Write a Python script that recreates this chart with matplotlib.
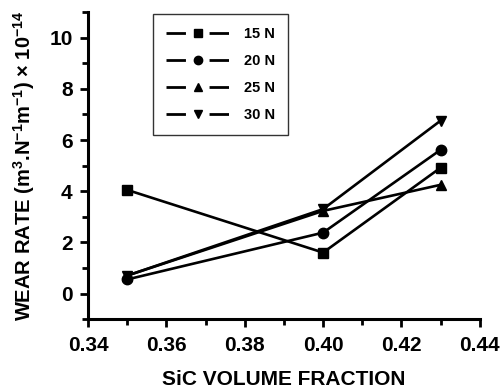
import matplotlib
matplotlib.use('Agg')
from matplotlib import pyplot as plt
from matplotlib.lines import Line2D
from matplotlib.ticker import MultipleLocator

plt.rcParams['font.family'] = 'Liberation Sans'
plt.rcParams['font.weight'] = 'bold'
plt.rcParams['mathtext.fontset'] = 'custom'
plt.rcParams['mathtext.rm'] = 'Liberation Sans'
plt.rcParams['mathtext.bf'] = 'Liberation Sans:bold'
plt.rcParams['mathtext.default'] = 'bf'

x = [0.35, 0.40, 0.43]
loads = ['15 N', '20 N', '25 N', '30 N']
w15 = [4.05, 1.6, 4.92]
w20 = [0.55, 2.38, 5.62]
w25 = [0.7, 3.23, 4.25]
w30 = [0.7, 3.3, 6.76]
series = [w15, w20, w25, w30]
markers = ['s', 'o', '^', 'v']

fig = plt.figure(figsize=(5.03, 3.92), dpi=100)
ax = fig.add_axes([0.175, 0.186, 0.779, 0.783])

handles = []
for y, m, lab in zip(series, markers, loads):
    ax.plot(x, y, color='black', lw=1.9, marker=m, ms=7.5, mec='black', mfc='black')
    handles.append(Line2D([], [], color='black', lw=2, marker=m, ms=6,
                          linestyle=(0, (7, 8.5)), dash_capstyle='butt', label=lab))

ax.set_xlim(0.34, 0.44)
ax.set_ylim(-1, 11)
ax.xaxis.set_minor_locator(MultipleLocator(0.01))
ax.yaxis.set_minor_locator(MultipleLocator(1))
ax.set_yticks([0, 2, 4, 6, 8, 10])
ax.set_xticks([0.34, 0.36, 0.38, 0.40, 0.42, 0.44])
ax.set_xticklabels(['0.34', '0.36', '0.38', '0.40', '0.42', '0.44'])

for s in ['top', 'right']:
    ax.spines[s].set_visible(False)
for s in ['left', 'bottom']:
    ax.spines[s].set_linewidth(2.2)
ax.tick_params(which='major', direction='out', length=6, width=2, labelsize=15)
ax.tick_params(axis='x', which='major', pad=6)
ax.tick_params(axis='y', which='major', pad=5)
ax.tick_params(which='minor', direction='out', length=4, width=2)

ax.set_xlabel('SiC VOLUME FRACTION', fontsize=15, fontweight='bold', labelpad=11)
ax.set_ylabel('WEAR RATE (m$^{3}$.N$^{-1}$m$^{-1}$) $\\mathrm{\\times}$ 10$^{-14}$',
              fontsize=14.5, fontweight='bold', labelpad=9)

leg = ax.legend(handles=handles, loc='upper left', bbox_to_anchor=(0.166, 0.995),
                borderaxespad=0, fontsize=10.5, frameon=True, fancybox=False,
                edgecolor='black', handlelength=4.4, handletextpad=0.95,
                labelspacing=0.9, borderpad=0.9, numpoints=1)
leg.get_frame().set_linewidth(1.0)

fig.savefig('out.png', dpi=100)
